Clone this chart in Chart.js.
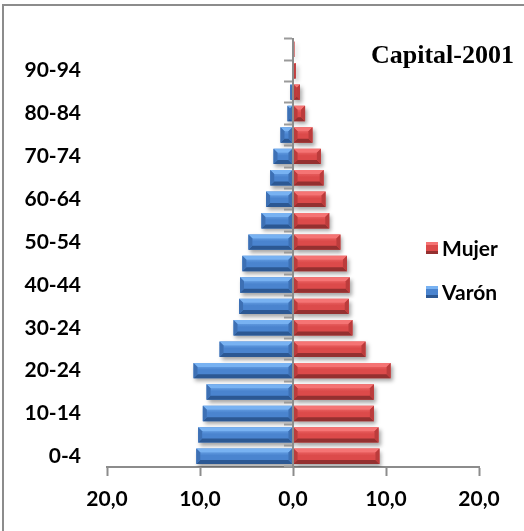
<!DOCTYPE html>
<html>
<head>
<meta charset="utf-8">
<script src="https://cdn.jsdelivr.net/npm/chart.js@4/dist/chart.umd.min.js"></script>
<style>
  body { margin: 0; background: #fff; }
  #wrap { position: relative; width: 524px; height: 531px; }
  #wrap canvas { position: absolute; left: 0; top: 0; }
  #frame { position: absolute; left: 2px; top: 4px; right: 0; bottom: 0;
           border-top: 2px solid #8c8c8c; border-left: 2px solid #8c8c8c; pointer-events: none; }
</style>
</head>
<body>
<div id="wrap">
  <canvas id="myChart" width="524" height="531"></canvas>
  <div id="frame"></div>
</div>
<script>
// age groups, bottom to top ("30-24" is how the original labels it)
const categories = ['0-4', '5-9', '10-14', '15-19', '20-24', '25-29', '30-24', '35-39', '40-44', '45-49',
  '50-54', '55-59', '60-64', '65-69', '70-74', '75-79', '80-84', '85-89', '90-94', '95-99'];
// percent of population
const varon = [10.4, 10.2, 9.7, 9.3, 10.7, 7.9, 6.4, 5.8, 5.7, 5.45, 4.8, 3.4, 2.9, 2.45, 2.1, 1.35, 0.6, 0.3, 0.05, 0];
const mujer = [9.3, 9.2, 8.7, 8.7, 10.5, 7.8, 6.4, 6.0, 6.1, 5.8, 5.1, 3.9, 3.5, 3.3, 3.0, 2.1, 1.3, 0.75, 0.3, 0.15];
const xTickLabels = ['20,0', '10,0', '0,0', '10,0', '20,0'];
const titleText = 'Capital-2001';

const blue = { body: '#4a84cf', light: '#78b2f2', dark: '#2c5893', side: '#3d70b4' };
const red = { body: '#dc4a4a', light: '#f57474', dark: '#943030', side: '#bb3c3c' };
const labelFont = { family: 'Lato', size: 21, weight: 'bold' };

// bevel look + soft shadow like the office chart
const bevelPlugin = {
  id: 'bevel',
  beforeDatasetsDraw(chart) {
    const ctx = chart.ctx;
    ctx.save();
    ctx.shadowColor = 'rgba(0,0,0,0.35)';
    ctx.shadowBlur = 4;
    ctx.shadowOffsetX = 2;
    ctx.shadowOffsetY = 3;
  },
  afterDatasetsDraw(chart) {
    const ctx = chart.ctx;
    ctx.restore();
    chart.data.datasets.forEach((ds, di) => {
      const pal = ds.pal;
      chart.getDatasetMeta(di).data.forEach(bar => {
        const x1 = Math.min(bar.x, bar.base), x2 = Math.max(bar.x, bar.base);
        const y1 = bar.y - bar.height / 2, y2 = bar.y + bar.height / 2;
        const w = x2 - x1;
        if (w < 0.5) return;
        const b = Math.min(4, w / 2, bar.height / 2);
        const poly = (pts, c) => {
          ctx.beginPath();
          ctx.moveTo(pts[0][0], pts[0][1]);
          pts.slice(1).forEach(p => ctx.lineTo(p[0], p[1]));
          ctx.closePath();
          ctx.fillStyle = c;
          ctx.fill();
        };
        ctx.save();
        const g = ctx.createLinearGradient(0, y1, 0, y2);
        g.addColorStop(0, pal.light);
        g.addColorStop(0.45, pal.body);
        g.addColorStop(1, pal.body);
        poly([[x1 + b, y1 + b], [x2 - b, y1 + b], [x2 - b, y2 - b], [x1 + b, y2 - b]], g);
        poly([[x1, y1], [x2, y1], [x2 - b, y1 + b], [x1 + b, y1 + b]], pal.light);
        poly([[x1, y2], [x2, y2], [x2 - b, y2 - b], [x1 + b, y2 - b]], pal.dark);
        poly([[x1, y1], [x1 + b, y1 + b], [x1 + b, y2 - b], [x1, y2]], pal.side);
        poly([[x2, y1], [x2 - b, y1 + b], [x2 - b, y2 - b], [x2, y2]], pal.side);
        ctx.restore();
      });
    });
  }
};

// title and legend sit inside the plot, top right / middle right
const overlayPlugin = {
  id: 'overlay',
  afterDraw(chart) {
    const ctx = chart.ctx;
    ctx.save();
    ctx.fillStyle = '#000';
    ctx.font = 'bold 26px "Liberation Serif"';
    ctx.textBaseline = 'alphabetic';
    ctx.fillText(titleText, 371, 63);

    const items = [chart.data.datasets[1], chart.data.datasets[0]];
    ctx.font = 'bold 21px Lato';
    ctx.textBaseline = 'middle';
    items.forEach((ds, i) => {
      const cy = 248 + i * 44;
      const pal = ds.pal;
      ctx.fillStyle = pal.body;
      ctx.fillRect(426, cy - 6, 12, 12);
      ctx.fillStyle = pal.light;
      ctx.fillRect(426, cy - 6, 12, 3);
      ctx.fillStyle = pal.dark;
      ctx.fillRect(426, cy + 3, 12, 3);
      ctx.fillStyle = '#000';
      ctx.fillText(ds.label, 442, cy + 1);
    });
    ctx.restore();
  }
};

new Chart(document.getElementById('myChart'), {
  type: 'bar',
  data: {
    labels: categories,
    datasets: [
      { label: 'Varón', data: varon.map(v => -v), backgroundColor: blue.body, pal: blue },
      { label: 'Mujer', data: mujer, backgroundColor: red.body, pal: red }
    ]
  },
  options: {
    indexAxis: 'y',
    responsive: false,
    animation: false,
    devicePixelRatio: 1,
    barPercentage: 0.72,
    categoryPercentage: 1,
    layout: { padding: { top: 38, right: 45, left: 0, bottom: 0 } },
    plugins: { legend: { display: false }, tooltip: { enabled: false } },
    scales: {
      x: {
        type: 'linear',
        stacked: true,
        min: -20,
        max: 20,
        afterFit: s => { s.height = 64; },
        afterBuildTicks: s => { s.ticks = [-20, -10, 0, 10, 20].map(v => ({ value: v })); },
        ticks: {
          font: labelFont,
          color: '#000',
          padding: 11,
          callback: (v, i) => xTickLabels[i]
        },
        grid: { drawOnChartArea: false, tickLength: 9, tickWidth: 2, color: '#8c8c8c' },
        border: { color: '#8c8c8c', width: 2 }
      },
      y: {
        type: 'category',
        stacked: true,
        reverse: true,
        afterFit: s => { s.width = 107; },
        ticks: {
          autoSkip: false,
          font: labelFont,
          color: '#000',
          padding: 26,
          callback: (v, i) => (i % 2 === 0 ? categories[i] : '')
        },
        grid: { display: false, drawTicks: false },
        border: { display: false }
      },
      y2: {
        type: 'category',
        reverse: true,
        offset: true,
        position: { x: 0 },
        ticks: { display: false },
        grid: { offset: true, drawOnChartArea: false, tickLength: 8, tickWidth: 2, color: '#9a9a9a', z: 1 },
        border: { color: '#8c8c8c', width: 2, z: 1 }
      }
    }
  },
  plugins: [bevelPlugin, overlayPlugin]
});
</script>
</body>
</html>
